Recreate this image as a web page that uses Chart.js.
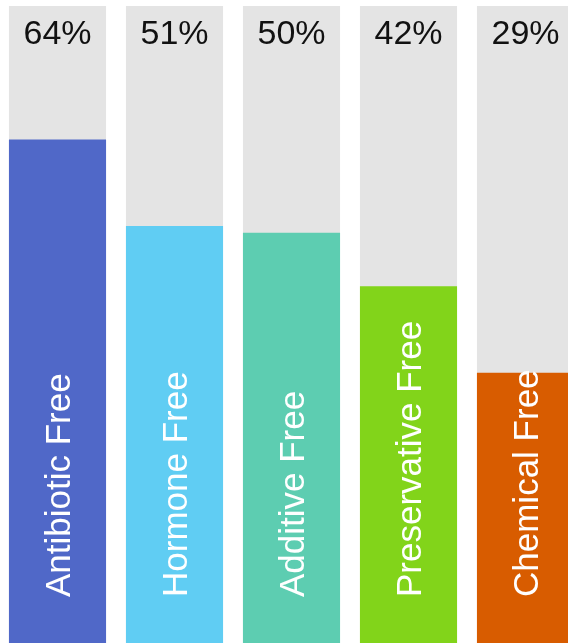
<!DOCTYPE html>
<html>
<head>
<meta charset="utf-8">
<script src="https://cdn.jsdelivr.net/npm/chart.js@4/dist/chart.umd.min.js"></script>
<style>
  html, body { margin: 0; padding: 0; background: #ffffff; overflow: hidden; }
  #wrap { position: absolute; left: -1px; top: 0; width: 585px; height: 643px; }
</style>
</head>
<body>
<div id="wrap"><canvas id="chart"></canvas></div>
<script>
// Share of products carrying each claim
const categories = ['Antibiotic Free', 'Hormone Free', 'Additive Free', 'Preservative Free', 'Chemical Free'];
const shareValues = [64, 51, 50, 42, 29];
const percentLabels = ['64%', '51%', '50%', '42%', '29%'];
const barColors = ['#5068c8', '#60cdf3', '#5dcdb1', '#82d41a', '#d85c00'];

// Value axis range; the grey tracks fill it completely
const Y_MIN = -11.5;
const Y_MAX = 84;
const trackValues = [84, 84, 84, 84, 84];

const FONT = '"Liberation Sans", Arial, sans-serif';

const labelPlugin = {
  id: 'barLabels',
  afterDatasetsDraw(chart) {
    const ctx = chart.ctx;
    const bars = chart.getDatasetMeta(0).data;
    ctx.save();
    bars.forEach((bar, i) => {
      // value on top of the track
      ctx.fillStyle = '#111111';
      ctx.font = '34px ' + FONT;
      ctx.textAlign = 'center';
      ctx.textBaseline = 'alphabetic';
      ctx.fillText(percentLabels[i], bar.x, chart.chartArea.top + 38);

      // category name running up the coloured bar
      ctx.save();
      ctx.translate(bar.x, 597);
      ctx.rotate(-Math.PI / 2);
      ctx.fillStyle = '#ffffff';
      ctx.font = '35px ' + FONT;
      ctx.textAlign = 'left';
      ctx.textBaseline = 'alphabetic';
      ctx.fillText(categories[i], 0, 12.5);
      ctx.restore();
    });
    ctx.restore();
  }
};

new Chart(document.getElementById('chart'), {
  type: 'bar',
  data: {
    labels: categories,
    datasets: [
      {
        data: shareValues,
        backgroundColor: barColors,
        base: Y_MIN,
        borderWidth: 0,
        barPercentage: 0.83,
        categoryPercentage: 1
      },
      {
        data: trackValues,
        backgroundColor: '#e4e4e4',
        base: Y_MIN,
        borderWidth: 0,
        barPercentage: 0.83,
        categoryPercentage: 1
      }
    ]
  },
  options: {
    responsive: true,
    maintainAspectRatio: false,
    animation: false,
    layout: { padding: { top: 6, bottom: 0, left: 0, right: 0 } },
    plugins: {
      legend: { display: false },
      tooltip: { enabled: false }
    },
    scales: {
      x: { display: false, stacked: true, offset: true },
      y: { display: false, stacked: false, min: Y_MIN, max: Y_MAX }
    }
  },
  plugins: [labelPlugin]
});
</script>
</body>
</html>
